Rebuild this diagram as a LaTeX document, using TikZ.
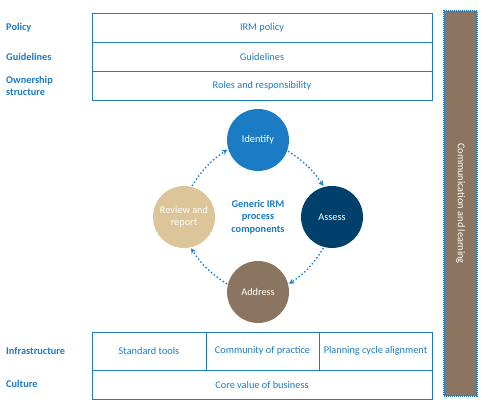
\documentclass[tikz,border=0pt]{standalone}
\usepackage{fontspec}
\setmainfont{Carlito}
\usetikzlibrary{shapes.geometric, arrows}
\definecolor{irmblue}{HTML}{1B7BC4}
\definecolor{irmnavy}{HTML}{00416B}
\definecolor{irmbrown}{HTML}{8C7560}
\definecolor{irmbeige}{HTML}{DCC598}

\begin{document}
\begin{tikzpicture}[x=1pt, y=1pt, font=\fontsize{10.3}{11.5}\selectfont]
      \tikzstyle{arrow} = [irmblue, line width=1.4pt, dash pattern=on 1.4pt off 2.3pt, ->, >=stealth, shorten <=1pt, shorten >=1pt]
      \tikzstyle{row} = [rectangle, draw=irmblue, line width=0.8pt, text=irmblue, minimum height=29pt, text centered, inner sep=0pt]
      \tikzstyle{label} = [anchor=west, text=irmblue, font=\fontsize{10.3}{11.5}\selectfont\bfseries, align=left, inner sep=0pt]
      \tikzstyle{phase} = [circle, minimum size=62pt, inner sep=0pt, text=white, align=center]
      \useasboundingbox (0,0) rectangle (484,409);
      % left labels
      \node (l-policy) [label] at (6,381) {Policy};
      \node (l-guide) [label] at (6,352) {Guidelines};
      \node (l-owner) [label] at (6,323) {Ownership\\structure};
      \node (l-infra) [label] at (6,58) {Infrastructure};
      \node (l-culture) [label] at (6,25) {Culture};
      % top block
      \node (policy) [row, minimum width=340pt] at (262,381.5) {IRM policy};
      \node (guide) [row, minimum width=340pt] at (262,352.5) {Guidelines};
      \node (owner) [row, minimum width=340pt] at (262,323.5) {Roles and responsibility};
      % bottom block
      \node (tools) [row, minimum width=114pt, minimum height=38pt] at (149,58) {Standard tools};
      \node (practice) [row, minimum width=113pt, minimum height=38pt] at (262.5,58) {Community of practice};
      \node (cycle) [row, minimum width=113pt, minimum height=38pt] at (375.5,58) {Planning cycle alignment};
      \node (culture) [row, minimum width=340pt] at (262,24.5) {Core value of business};
      % side bar
      \node (comm) [rectangle, fill=irmbrown, draw=irmblue, line width=1.4pt, dash pattern=on 1pt off 1pt,
                    minimum width=33pt, minimum height=385pt, inner sep=0pt] at (460.5,205.5) {};
      \node (comm-text) [rotate=-90, text=white] at (comm.center) {Communication and learning};
      % process circles
      \node (identify) [phase, fill=irmblue] at (258,269) {Identify};
      \node (assess) [phase, fill=irmnavy] at (332,192) {Assess};
      \node (address) [phase, fill=irmbrown] at (258,117) {Address};
      \node (review) [phase, fill=irmbeige] at (184,192) {Review and\\report};
      \node (generic) [text=irmblue, font=\fontsize{10.3}{12.5}\selectfont\bfseries, align=center] at (258,192) {Generic IRM\\process\\components};
      \draw [arrow] (identify.-20) to[bend left=12] (assess.105);
      \draw [arrow] (assess.-105) to[bend left=12] (address.14);
      \draw [arrow] (address.166) to[bend left=12] (review.-78);
      \draw [arrow] (review.76) to[bend left=12] (identify.-163);
  \end{tikzpicture}
\end{document}
